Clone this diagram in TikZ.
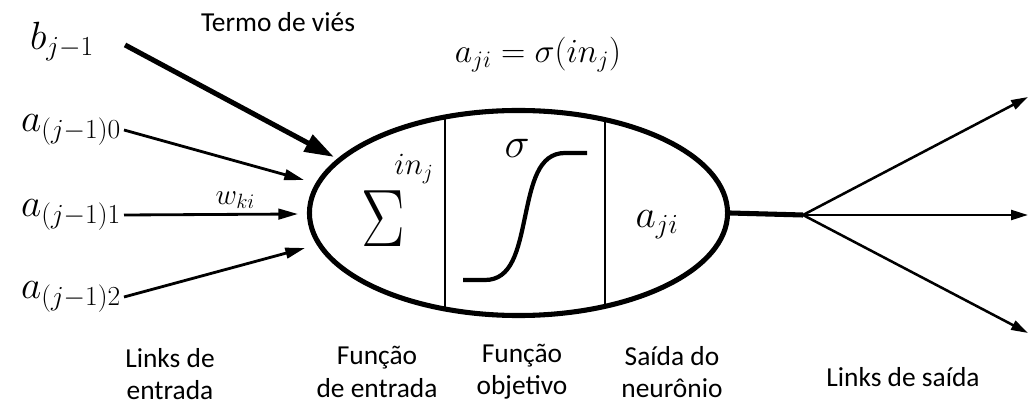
\RequirePackage{fix-cm}
\documentclass[tikz,border=0pt]{standalone}
\usepackage[no-math]{fontspec}
\setmainfont{Carlito}
\usetikzlibrary{arrows.meta,positioning,shapes.geometric}

\begin{document}
\begin{tikzpicture}[x=0.025cm,y=-0.025cm,every node/.style={inner sep=2pt},
    txt/.style={font=\fontsize{19.5}{23}\selectfont,align=center},
    mth/.style={font=\fontsize{28}{32}\selectfont},
    inlink/.style={-{Triangle[length=14pt,width=7.5pt]},line width=2pt},
    biaslink/.style={-{Triangle[length=21pt,width=13pt]},line width=3.6pt},
    outlink/.style={-{Triangle[length=12pt,width=7pt]},line width=1.8pt}]
      \useasboundingbox (0,0) rectangle (1030,405);
      \node[draw,ellipse,line width=3.6pt,minimum width=10.45cm,minimum height=5.125cm,inner sep=0] (n) at (518.5,213) {};
      \draw[line width=1.3pt] (445,117) -- (445,309);
      \draw[line width=1.3pt] (605,120) -- (605,306);
      \node[font=\fontsize{58}{60}\selectfont] (sum) at (383,219) {\scalebox{0.8}[1]{$\Sigma$}};
      \node[font=\fontsize{22}{24}\selectfont,anchor=base] (inj) at (414,175) {$in_j$};
      \node[font=\fontsize{30}{32}\selectfont] (sig) at (517,148) {$\sigma$};
      \draw[line width=3pt] (463,280) -- (485,280) .. controls (512,280) and (518,250) .. (525,217)
        .. controls (532,184) and (538,153) .. (565,153) -- (587,153);
      \node[mth,anchor=base] (aji) at (657,228) {$a_{ji}$};
      \node[txt] (bias) at (278,22) {Termo de viés};
      \node[font=\fontsize{24}{28}\selectfont] (eq) at (538,55) {$a_{ji}=\sigma(in_j)$};
      \node[mth,anchor=base] (b) at (62,50) {$b_{j-1}$};
      \node[mth,anchor=east] (a0) at (124,130) {$a_{(j-1)0}$};
      \node[mth,anchor=east] (a1) at (124,215) {$a_{(j-1)1}$};
      \node[mth,anchor=east] (a2) at (124,297) {$a_{(j-1)2}$};
      \coordinate (tb) at (334,157);
      \coordinate (t0) at (304,180);
      \coordinate (t1) at (298,214);
      \coordinate (t2) at (305,248);
      \draw[biaslink] (b.east) ++(28,3) -- (tb);
      \draw[inlink] (a0.east) -- (t0);
      \draw[inlink] (a1.east) -- (t1) node[pos=0.64,above=1pt,font=\fontsize{21}{24}\selectfont] (w) {$w_{ki}$};
      \draw[inlink] (a2.east) -- (t2);
      \coordinate (fork) at (803,215);
      \coordinate (o1) at (1028,97);
      \coordinate (o2) at (1028,215);
      \coordinate (o3) at (1028,333);
      \draw[line width=3.6pt] (n.east) -- (fork);
      \draw[outlink] (fork) -- (o1);
      \draw[outlink] (fork) -- (o2);
      \draw[outlink] (fork) -- (o3);
      \node[txt] (lin) at (170,374) {Links de\\entrada};
      \node[txt] (fin) at (377,372) {Função\\de entrada};
      \node[txt] (fob) at (522,372) {Função\\objetivo};
      \node[txt] (sai) at (672,372) {Saída do\\neurônio};
      \node[txt] (lout) at (903,377) {Links de saída};
    \end{tikzpicture}
\end{document}
